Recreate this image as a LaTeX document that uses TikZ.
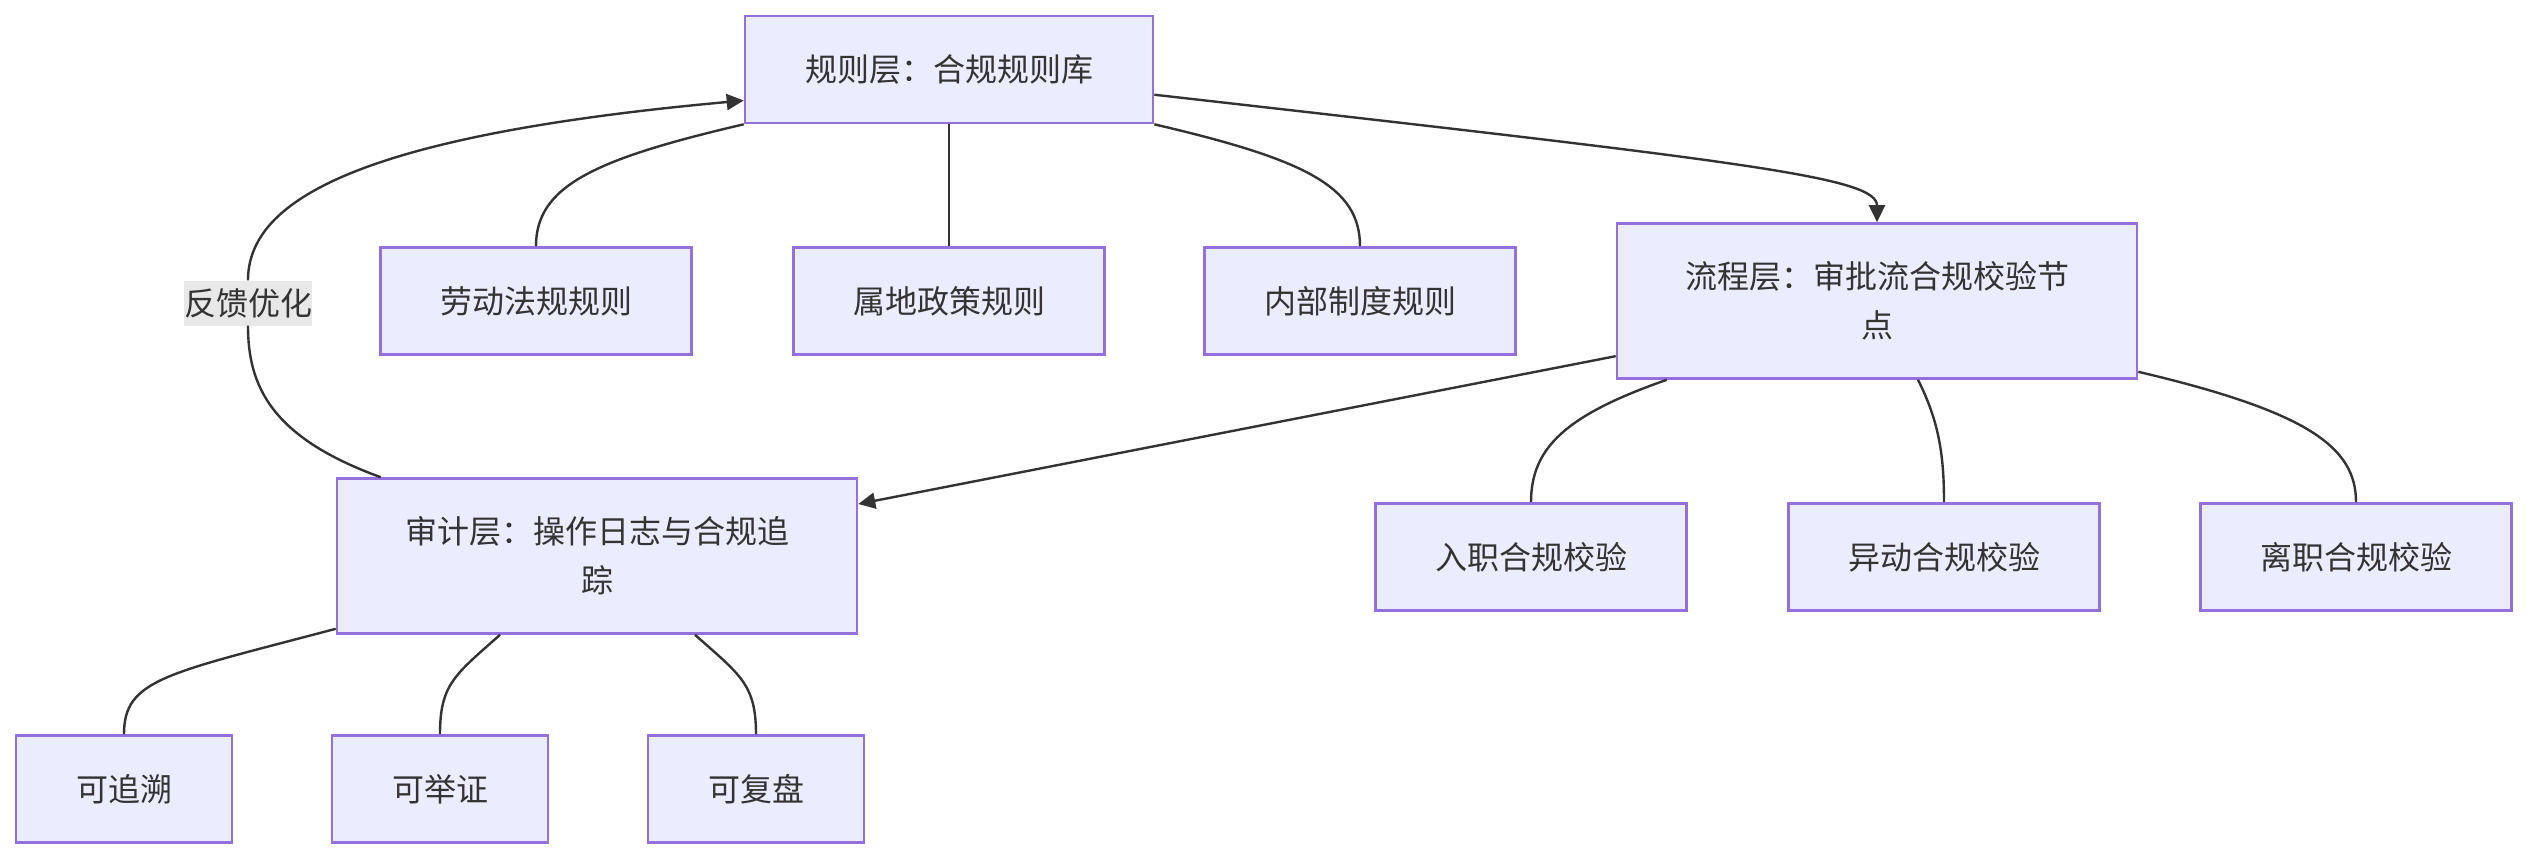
\documentclass[tikz,border=0pt]{standalone}
\usepackage{fontspec}
\setmainfont{Noto Sans CJK SC}
\usepackage{tikz}
\usetikzlibrary{calc,arrows.meta}
\usepackage{xcolor}
\definecolor{mmfill}{HTML}{ECECFF}
\definecolor{mmstroke}{HTML}{9370DB}
\definecolor{mmgray}{HTML}{333333}
\definecolor{mmlabel}{HTML}{E8E8E8}
\tikzset{
  box/.style={draw=mmstroke, fill=mmfill, line width=2.6pt, text=mmgray, font=\fontsize{32}{49}\selectfont, align=center, inner sep=0pt, minimum height=107pt},
  layer/.style={box, minimum width=520pt, minimum height=155pt},
  item/.style={box, minimum width=311pt},
  small/.style={box, minimum width=216pt},
  link/.style={line width=2.4pt, draw=mmgray},
  flow/.style={link, -{Triangle[length=17pt, width=16pt]}},
  linktext/.style={fill=mmlabel, text=mmgray, font=\fontsize{32}{40}\selectfont, inner sep=0pt, minimum height=45pt},
}

\begin{document}
\begin{tikzpicture}[x=1pt, y=-1pt]
  \useasboundingbox (0,0) rectangle (2529,860);
  % Regelebene
  \node[box, minimum width=408pt] (rule) at (949,69.5) {规则层：合规规则库};
  \node[item] (law)   at (536,301)  {劳动法规规则};
  \node[item] (local) at (949,301)  {属地政策规则};
  \node[item] (inner) at (1360,301) {内部制度规则};
  % Prozessebene
  \node[layer] (proc) at (1877,301) {流程层：审批流合规校验节\\点};
  \node[item] (entry) at (1531,557) {入职合规校验};
  \node[item] (move)  at (1944,557) {异动合规校验};
  \node[item] (leave) at (2356,557) {离职合规校验};
  % Auditebene
  \node[layer] (audit) at (597,556) {审计层：操作日志与合规追\\踪};
  \node[small] (trace)  at (124,789) {可追溯};
  \node[small] (proof)  at (440,789) {可举证};
  \node[small] (review) at (756,789) {可复盘};
  \node[linktext] (fb) at (248,303) {反馈优化};
  % Verbindungen
  \draw[link] (rule.south west) .. controls +(-150,35) and +(0,-60) .. (law.north);
  \draw[link] (rule.south) -- (local.north);
  \draw[link] (rule.south east) .. controls +(150,35) and +(0,-60) .. (inner.north);
  \draw[flow] ($(rule.north east)!0.73!(rule.south east)$) .. controls +(600,68) and +(0,-45) .. (proc.north);
  \draw[flow] ($(proc.north west)!0.85!(proc.south west)$) -- ($(audit.north east)!0.17!(audit.south east)$);
  \draw[link] ($(proc.south west)+(51,0)$) .. controls +(-100,35) and +(0,-55) .. (entry.north);
  \draw[link] ($(proc.south)+(41,0)$) .. controls +(20,40) and +(0,-50) .. (move.north);
  \draw[link] ($(proc.south east)+(0,-8)$) .. controls +(170,40) and +(0,-55) .. (leave.north);
  \draw[link] ($(audit.south west)+(0,-6)$) .. controls +(-170,45) and +(0,-55) .. (trace.north);
  \draw[link] ($(audit.south)+(-97,0)$) .. controls +(-45,40) and +(0,-50) .. (proof.north);
  \draw[link] ($(audit.south)+(98,0)$) .. controls +(45,40) and +(0,-50) .. (review.north);
  % Rueckkopplung
  \draw[link] ($(audit.north west)+(45,0)$) .. controls +(-110,-40) and +(0,60) .. (fb.south);
  \draw[flow] (fb.north) .. controls +(0,-80) and +(-385,35) .. ($(rule.west)+(0,31)$);
\end{tikzpicture}
\end{document}
